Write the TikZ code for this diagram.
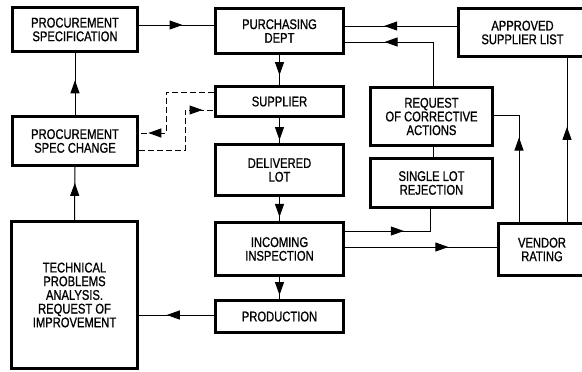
\documentclass[tikz,border=0pt]{standalone}
\usepackage{fontspec}
\setmainfont{Liberation Sans}[FakeStretch=0.8,FakeBold=1]
\usetikzlibrary{arrows.meta,decorations.markings}
\tikzset{
  box/.style={draw, line width=3pt, align=center, inner sep=1pt,
    font=\fontsize{14}{13.7}\selectfont},
  conn/.style={line width=1pt},
  dashconn/.style={line width=1pt, dash pattern=on 6pt off 3pt},
  midarr/.style={decoration={markings,
    mark=at position #1 with {\arrow[solid]{Triangle[length=13pt,width=9pt]}}},
    postaction={decorate}}
}
\begin{document}
\begin{tikzpicture}[x=1pt,y=-1pt]
\useasboundingbox (0,0) rectangle (582,372);
% boxes
\node[box, minimum width=125pt, minimum height=44pt] (pspec) at (75,29.5) {PROCUREMENT\\SPECIFICATION};
\node[box, minimum width=128pt, minimum height=45pt] (purch) at (279.5,31) {PURCHASING\\DEPT};
\node[box, minimum width=128pt, minimum height=48pt] (appr) at (522.5,32.5) {APPROVED\\SUPPLIER LIST};
\node[box, minimum width=128pt, minimum height=30pt] (supp) at (279.5,101.5) {SUPPLIER};
\node[box, minimum width=122pt, minimum height=58pt] (req) at (431.5,116.5) {REQUEST\\OF CORRECTIVE\\ACTIONS};
\node[box, minimum width=122pt, minimum height=49pt] (slr) at (431.5,183) {SINGLE LOT\\REJECTION};
\node[box, minimum width=128pt, minimum height=51pt] (dlot) at (279.5,170) {DELIVERED\\LOT};
\node[box, minimum width=128pt, minimum height=53pt] (inc) at (279.5,249) {INCOMING\\INSPECTION};
\node[box, minimum width=128pt, minimum height=32pt] (prod) at (279.5,316.5) {PRODUCTION};
\node[box, minimum width=87pt, minimum height=52pt] (vend) at (542,249.5) {VENDOR\\RATING};
\node[box, minimum width=125pt, minimum height=49pt] (psc) at (75,141) {PROCUREMENT\\SPEC CHANGE};
\node[box, minimum width=126pt, minimum height=147pt] (tech) at (74.5,295) {TECHNICAL\\PROBLEMS\\ANALYSIS.\\REQUEST OF\\IMPROVEMENT};
% coordinates for bends
\coordinate (c1) at (433,42);
\coordinate (c2) at (430,231);
\coordinate (c3) at (519,115);
\coordinate (c4) at (166,92);
\coordinate (c5) at (166,133);
\coordinate (c6) at (185,150);
\coordinate (c7) at (185,110);
% connectors
\draw[conn, midarr=0.58] (pspec.east |- 0,25) -- (purch.west |- 0,25);
\draw[conn, midarr=0.65] (appr.west |- 0,26) -- (purch.east |- 0,26);
\draw[conn, midarr=0.70] (req.north -| c1) -- (c1) -- (purch.east |- c1);
\draw[conn] (slr.north -| c1) -- (req.south -| c1);
\draw[conn, midarr=0.55] (inc.east |- c2) -- (c2) -- (slr.south -| c2);
\draw[conn, midarr=0.68] (inc.east |- 0,247) -- (vend.west |- 0,247);
\draw[conn, midarr=0.64] (vend.north -| c3) -- (c3) -- (req.east |- c3);
\draw[conn, midarr=0.58] (vend.north -| 567,0) -- (appr.south -| 567,0);
\draw[conn, midarr=0.67] (purch.south) -- (supp.north);
\draw[conn, midarr=0.88] (supp.south) -- (dlot.north);
\draw[conn, midarr=0.83] (dlot.south) -- (inc.north);
\draw[conn, midarr=0.82] (inc.south) -- (prod.north);
\draw[conn, midarr=0.63] (prod.west |- 0,315) -- (tech.east |- 0,315);
\draw[conn, midarr=0.70] (tech.north) -- (psc.south);
\draw[conn, midarr=0.56] (psc.north) -- (pspec.south);
\draw[dashconn, midarr=0.92] (supp.west |- c4) -- (c4) -- (c5) -- (psc.east |- c5);
\draw[dashconn, midarr=0.90] (psc.east |- c6) -- (c6) -- (c7) -- (supp.west |- c7);
\end{tikzpicture}
\end{document}
